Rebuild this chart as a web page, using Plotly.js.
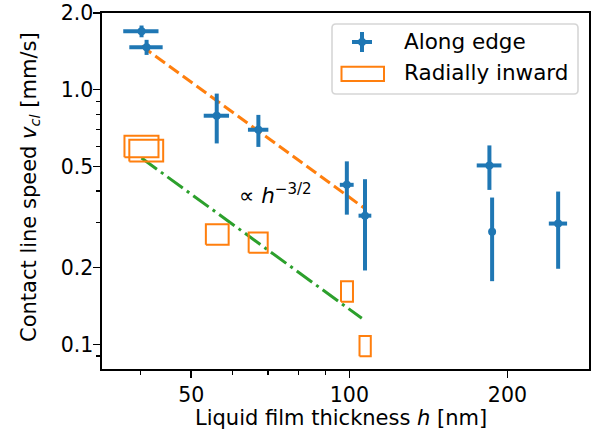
<!DOCTYPE html>
<html><head><meta charset="utf-8">
<script src="https://cdn.plot.ly/plotly-3.0.1.min.js"></script>
<style>html,body{margin:0;padding:0;background:#fff}#chart{width:594px;height:439px}</style>
</head><body><div id="chart"></div>
<script>
// Along edge (errorbar data)
const edgeH = [40.2, 41.1, 55.9, 67.1, 98.9, 107.1, 184.8, 187.0, 249.8];
const edgeHErr = [3.1, 3.0, 3.1, 3.0, 3.0, 3.0, 10, 0, 10];
const edgeV = [1.696, 1.469, 0.790, 0.696, 0.423, 0.320, 0.504, 0.277, 0.298];
const edgeVErr = [0.09, 0.10, 0.175, 0.10, 0.10, 0.125, 0.10, 0.10, 0.10];
// Radially inward (rectangles: centre +/- error)
const inwardH = [40.3, 41.15, 56.1, 67.1, 99.0, 107.2];
const inwardHErr = [3.0, 3.05, 2.8, 2.8, 2.6, 2.65];
const inwardV = [0.601, 0.579, 0.271, 0.252, 0.162, 0.0988];
const inwardVErr = [0.058, 0.057, 0.025, 0.023, 0.015, 0.009];
// h^-3/2 guide lines
const edgeFitH = [40.2, 107.1];
const edgeFitV = [1.485, 0.341];
const inwardFitH = [40.2, 105.6];
const inwardFitV = [0.539, 0.1265];
// ticks
const xTickVals = [50, 100, 200];
const xTickText = ['50', '100', '200'];
const xMinorVals = [40, 60, 70, 80, 90];
const yTickVals = [0.1, 0.2, 0.5, 1, 2];
const yTickText = ['0.1', '0.2', '0.5', '1.0', '2.0'];
const yMinorVals = [0.09, 0.3, 0.4, 0.6, 0.7, 0.8, 0.9];

const BLUE = '#1f77b4', ORANGE = '#ff7f0e', GREEN = '#2ca02c';
const FONT = 'DejaVu Sans, Liberation Sans, sans-serif';

// rectangle outlines
const rx = [], ry = [];
inwardH.forEach((h, i) => {
  const x0 = h - inwardHErr[i], x1 = h + inwardHErr[i];
  const y0 = inwardV[i] - inwardVErr[i], y1 = inwardV[i] + inwardVErr[i];
  rx.push(x0, x1, x1, x0, x0, null);
  ry.push(y0, y0, y1, y1, y0, null);
});

const traces = [
  {x: edgeFitH, y: edgeFitV, mode: 'lines', line: {color: ORANGE, width: 3, dash: '12px,5px'}, hoverinfo: 'skip'},
  {x: inwardFitH, y: inwardFitV, mode: 'lines', line: {color: GREEN, width: 3, dash: '19px,5px,3px,5px'}, hoverinfo: 'skip'},
  {x: rx, y: ry, mode: 'lines', line: {color: ORANGE, width: 2}, connectgaps: false, name: 'Radially inward'},
  {x: edgeH, y: edgeV, mode: 'markers', name: 'Along edge',
   marker: {color: BLUE, size: 8},
   error_x: {type: 'data', array: edgeHErr, symmetric: true, color: BLUE, thickness: 4, width: 0},
   error_y: {type: 'data', array: edgeVErr, symmetric: true, color: BLUE, thickness: 4, width: 0}}
];

// plot area in pixels: x 102..589, y 13..369
const L = 102, R = 589, T = 13, B = 369;
const px = v => (v - L) / (R - L);
const py = v => (B - v) / (B - T);

// manual legend
const bx0 = 332, bx1 = 578, by0 = 24, by1 = 94, rad = 4;
const rrx = rad / (R - L), rry = rad / (B - T);
const X0 = px(bx0), X1 = px(bx1), Y0 = py(by0), Y1 = py(by1);
const boxPath = `M ${X0 + rrx},${Y0} L ${X1 - rrx},${Y0} Q ${X1},${Y0} ${X1},${Y0 - rry} L ${X1},${Y1 + rry} Q ${X1},${Y1} ${X1 - rrx},${Y1} L ${X0 + rrx},${Y1} Q ${X0},${Y1} ${X0},${Y1 + rry} L ${X0},${Y0 - rry} Q ${X0},${Y0} ${X0 + rrx},${Y0} Z`;

const shapes = [
  {type: 'path', xref: 'paper', yref: 'paper', path: boxPath, fillcolor: 'rgba(255,255,255,0.8)', line: {color: '#d6d6d6', width: 1.6}, layer: 'above'},
  {type: 'line', xref: 'paper', yref: 'paper', x0: px(352), x1: px(372), y0: py(42), y1: py(42), line: {color: BLUE, width: 4}, layer: 'above'},
  {type: 'line', xref: 'paper', yref: 'paper', x0: px(362), x1: px(362), y0: py(32), y1: py(52), line: {color: BLUE, width: 4}, layer: 'above'},
  {type: 'circle', xref: 'paper', yref: 'paper', x0: px(358), x1: px(366), y0: py(38), y1: py(46), fillcolor: BLUE, line: {width: 0}, layer: 'above'},
  {type: 'rect', xref: 'paper', yref: 'paper', x0: px(341.5), x1: px(384), y0: py(66.7), y1: py(81), line: {color: ORANGE, width: 2}, layer: 'above'}
];

const annotations = [
  {xref: 'paper', yref: 'paper', x: px(402), y: py(41.5), xanchor: 'left', yanchor: 'middle', text: 'Along edge', showarrow: false, font: {size: 21.5, family: FONT, color: '#000'}},
  {xref: 'paper', yref: 'paper', x: px(402), y: py(73), xanchor: 'left', yanchor: 'middle', text: 'Radially inward', showarrow: false, font: {size: 21.5, family: FONT, color: '#000'}},
  {xref: 'x', yref: 'y', x: Math.log10(61.0), y: Math.log10(0.39), xanchor: 'left', yanchor: 'middle', text: '∝ <i>h</i><sup>−3/2</sup>', showarrow: false, font: {size: 21.5, family: FONT, color: '#000'}},
  {xref: 'paper', yref: 'paper', x: px(341), y: py(418), xanchor: 'center', yanchor: 'middle', text: 'Liquid film thickness <i>h</i> [nm]', showarrow: false, font: {size: 21, family: FONT, color: '#000'}},
  {xref: 'paper', yref: 'paper', x: px(30), y: py(187), xanchor: 'center', yanchor: 'middle', textangle: -90, text: 'Contact line speed <i>v</i><sub><i>cl</i></sub> [mm/s]', showarrow: false, font: {size: 21, family: FONT, color: '#000'}}
];

const axisCommon = {
  type: 'log', tickmode: 'array', ticks: 'outside', ticklen: 7, tickwidth: 1.6, tickcolor: '#000',
  showline: true, linewidth: 1.6, linecolor: '#000', mirror: true, showgrid: false, zeroline: false,
  tickfont: {size: 20.5, family: FONT, color: '#000'}
};

const layout = {
  width: 594, height: 439,
  margin: {l: L, r: 594 - R, t: T, b: 439 - B, pad: 0},
  paper_bgcolor: '#fff', plot_bgcolor: '#fff',
  showlegend: false,
  font: {family: FONT, size: 20, color: '#000'},
  xaxis: Object.assign({}, axisCommon, {
    range: [Math.log10(33.8), Math.log10(286)],
    tickvals: xTickVals, ticktext: xTickText,
    minor: {tickmode: 'array', tickvals: xMinorVals, ticks: 'outside', ticklen: 4, tickwidth: 1.2, tickcolor: '#000', showgrid: false}
  }),
  yaxis: Object.assign({}, axisCommon, {
    range: [Math.log10(0.08), Math.log10(2.0)],
    tickvals: yTickVals, ticktext: yTickText,
    ticklabelstandoff: -4,
    minor: {tickmode: 'array', tickvals: yMinorVals, ticks: 'outside', ticklen: 4, tickwidth: 1.2, tickcolor: '#000', showgrid: false}
  }),
  shapes: shapes,
  annotations: annotations
};

Plotly.newPlot('chart', traces, layout, {staticPlot: true, displayModeBar: false});
</script>
</body></html>
